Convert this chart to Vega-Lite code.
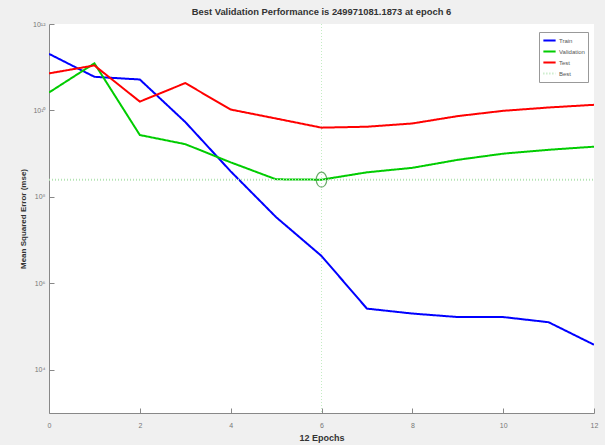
{
  "$schema": "https://vega.github.io/schema/vega-lite/v6.json",
  "autosize": "none",
  "width": 545,
  "height": 389,
  "padding": {"left": 49, "top": 24, "right": 11, "bottom": 32},
  "background": "#f0f0f0",
  "title": {
    "text": "Best Validation Performance is 249971081.1873 at epoch 6",
    "font": "Liberation Sans Narrow, Liberation Sans",
    "fontSize": 9.4,
    "fontWeight": "bold",
    "color": "#333333",
    "offset": 3,
    "anchor": "middle"
  },
  "config": {
    "view": {"fill": "white", "stroke": null},
    "font": "Liberation Sans Narrow, Liberation Sans"
  },
  "datasets": {
    "perf": [
      {"epoch": 0, "series": "Train", "mse": 2.04e11},
      {"epoch": 1, "series": "Train", "mse": 6.0e10},
      {"epoch": 2, "series": "Train", "mse": 5.2e10},
      {"epoch": 3, "series": "Train", "mse": 5.4e9},
      {"epoch": 4, "series": "Train", "mse": 3.9e8},
      {"epoch": 5, "series": "Train", "mse": 3.4e7},
      {"epoch": 6, "series": "Train", "mse": 4.3e6},
      {"epoch": 7, "series": "Train", "mse": 2.6e5},
      {"epoch": 8, "series": "Train", "mse": 2.0e5},
      {"epoch": 9, "series": "Train", "mse": 1.66e5},
      {"epoch": 10, "series": "Train", "mse": 1.66e5},
      {"epoch": 11, "series": "Train", "mse": 1.26e5},
      {"epoch": 12, "series": "Train", "mse": 3.8e4},
      {"epoch": 0, "series": "Validation", "mse": 2.6e10},
      {"epoch": 1, "series": "Validation", "mse": 1.23e11},
      {"epoch": 2, "series": "Validation", "mse": 2.7e9},
      {"epoch": 3, "series": "Validation", "mse": 1.66e9},
      {"epoch": 4, "series": "Validation", "mse": 6.3e8},
      {"epoch": 5, "series": "Validation", "mse": 2.55e8},
      {"epoch": 6, "series": "Validation", "mse": 249971081.1873},
      {"epoch": 7, "series": "Validation", "mse": 3.7e8},
      {"epoch": 8, "series": "Validation", "mse": 4.7e8},
      {"epoch": 9, "series": "Validation", "mse": 7.2e8},
      {"epoch": 10, "series": "Validation", "mse": 1.0e9},
      {"epoch": 11, "series": "Validation", "mse": 1.23e9},
      {"epoch": 12, "series": "Validation", "mse": 1.45e9},
      {"epoch": 0, "series": "Test", "mse": 7.2e10},
      {"epoch": 1, "series": "Test", "mse": 1.1e11},
      {"epoch": 2, "series": "Test", "mse": 1.6e10},
      {"epoch": 3, "series": "Test", "mse": 4.3e10},
      {"epoch": 4, "series": "Test", "mse": 1.05e10},
      {"epoch": 5, "series": "Test", "mse": 6.5e9},
      {"epoch": 6, "series": "Test", "mse": 4.0e9},
      {"epoch": 7, "series": "Test", "mse": 4.2e9},
      {"epoch": 8, "series": "Test", "mse": 5.0e9},
      {"epoch": 9, "series": "Test", "mse": 7.4e9},
      {"epoch": 10, "series": "Test", "mse": 9.8e9},
      {"epoch": 11, "series": "Test", "mse": 1.17e10},
      {"epoch": 12, "series": "Test", "mse": 1.35e10},
      {"epoch": 0, "series": "Best", "mse": 249971081.1873},
      {"epoch": 12, "series": "Best", "mse": 249971081.1873}
    ],
    "best": [
      {"epoch": 6, "mse": 249971081.1873}
    ]
  },
  "layer": [
    {
      "data": {"name": "best"},
      "mark": {"type": "rule", "stroke": "#c4ecc4", "strokeDash": [1, 2], "strokeWidth": 1},
      "encoding": {
        "x": {"field": "epoch", "type": "quantitative", "scale": {"domain": [0, 12]}}
      }
    },
    {
      "data": {"name": "perf"},
      "mark": {"type": "line", "clip": true},
      "encoding": {
        "x": {
          "field": "epoch", "type": "quantitative",
          "scale": {"domain": [0, 12], "nice": false},
          "axis": {
            "values": [0, 2, 4, 6, 8, 10, 12],
            "title": "12 Epochs",
            "titleFontSize": 9, "titleFontWeight": "bold", "titleColor": "#333333",
            "titlePadding": 5,
            "labelFontSize": 7, "labelColor": "#777777", "labelPadding": 13,
            "tickSize": -5, "tickColor": "#888888", "domainColor": "#888888",
            "grid": false, "labelFlush": false
          }
        },
        "y": {
          "field": "mse", "type": "quantitative",
          "scale": {"type": "log", "domain": [1000, 1000000000000], "nice": false},
          "axis": {
            "values": [10000, 1000000, 100000000, 10000000000, 1000000000000],
            "labelExpr": "datum.value >= 1e12 ? '10¹²' : datum.value >= 1e10 ? '10¹⁰' : datum.value >= 1e8 ? '10⁸' : datum.value >= 1e6 ? '10⁶' : '10⁴'",
            "title": "Mean Squared Error  (mse)",
            "titleFontSize": 8, "titleFontWeight": "bold", "titleColor": "#333333",
            "titlePadding": 5,
            "labelFontSize": 7, "labelColor": "#777777", "labelPadding": 9,
            "tickSize": -5, "tickColor": "#888888", "domainColor": "#888888",
            "grid": false
          }
        },
        "color": {
          "field": "series", "type": "nominal",
          "scale": {"domain": ["Train", "Validation", "Test", "Best"], "range": ["#0000ff", "#00cc00", "#ff0000", "#b4e4b4"]},
          "legend": {
            "title": null, "orient": "none", "legendX": 490, "legendY": 8,
            "labelFontSize": 6, "labelColor": "#555555", "labelOffset": 2,
            "symbolType": "stroke", "symbolSize": 150,
            "rowPadding": 0, "padding": 3, "clipHeight": 11,
            "strokeColor": "#999999", "fillColor": "white"
          }
        },
        "strokeDash": {
          "field": "series", "type": "nominal",
          "scale": {"domain": ["Train", "Validation", "Test", "Best"], "range": [[1, 0], [1, 0], [1, 0], [1, 2]]},
          "legend": {
            "title": null, "orient": "none", "legendX": 490, "legendY": 8,
            "labelFontSize": 6, "labelColor": "#555555", "labelOffset": 2,
            "symbolType": "stroke", "symbolSize": 150,
            "rowPadding": 0, "padding": 3, "clipHeight": 11,
            "strokeColor": "#999999", "fillColor": "white"
          }
        },
        "strokeWidth": {
          "field": "series", "type": "nominal",
          "scale": {"domain": ["Train", "Validation", "Test", "Best"], "range": [2, 2, 2, 1]},
          "legend": null
        },
        "order": {"field": "epoch", "type": "quantitative"}
      }
    },
    {
      "data": {"name": "best"},
      "mark": {
        "type": "point",
        "shape": "M -0.7 0 A 0.7 1 0 1 0 0.7 0 A 0.7 1 0 1 0 -0.7 0 Z",
        "size": 225, "filled": false, "stroke": "#2e8b2e", "strokeWidth": 1.2
      },
      "encoding": {
        "x": {"field": "epoch", "type": "quantitative"},
        "y": {"field": "mse", "type": "quantitative"}
      }
    }
  ]
}
